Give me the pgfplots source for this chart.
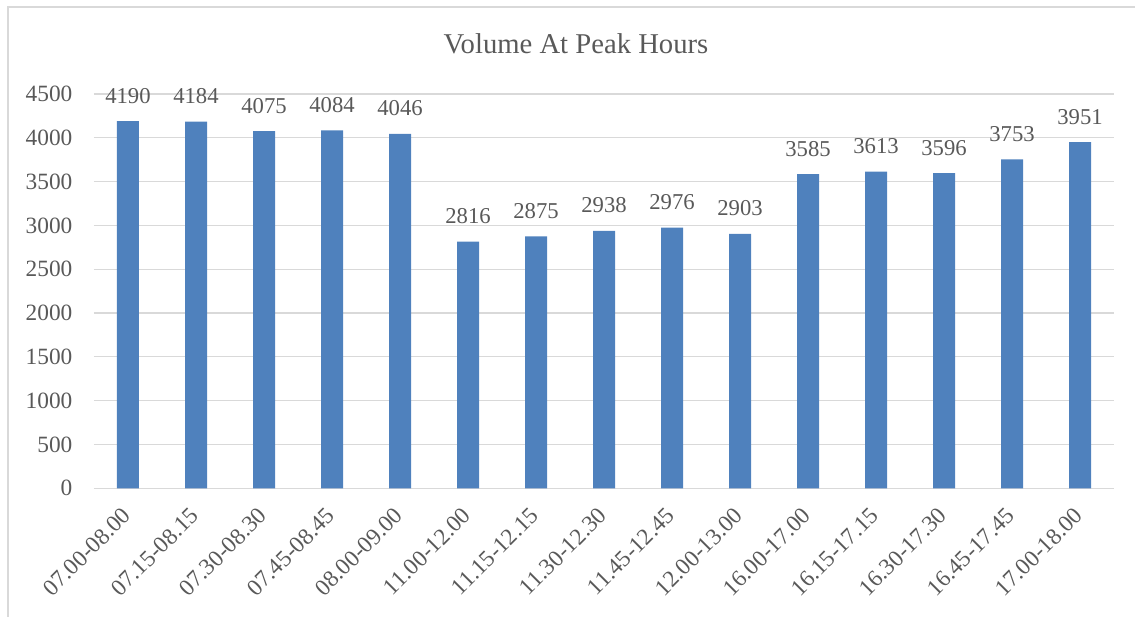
\documentclass[border=0pt]{standalone}
\usepackage{pgfplots}
\pgfplotsset{compat=1.18}
\usepackage{fontspec}
\setmainfont{Liberation Serif}
\definecolor{barblue}{HTML}{4F81BD}
\definecolor{txt}{HTML}{595959}
\definecolor{gridc}{HTML}{D9D9D9}
\begin{document}
\begin{tikzpicture}
\useasboundingbox (-70.5pt,-96.5pt) rectangle (780.75pt,366.2pt);
\draw[gridc, line width=0.9pt] (-64.5pt,-96.5pt) -- (-64.5pt,361pt) -- (780.75pt,361pt);
\node[anchor=base, text=txt, font=\fontsize{21.5}{24}\selectfont] at (361.5pt,325.7pt) {Volume At Peak Hours};
\begin{axis}[
  at={(0pt,0pt)}, anchor=south west,
  scale only axis,
  width=765pt, height=295.7pt,
  xmin=-0.5, xmax=14.5,
  ymin=0, ymax=4500,
  ytick={0,500,...,4500},
  xtick=data,
  xticklabels={07.00-08.00,07.15-08.15,07.30-08.30,07.45-08.45,08.00-09.00,11.00-12.00,11.15-12.15,11.30-12.30,11.45-12.45,12.00-13.00,16.00-17.00,16.15-17.15,16.30-17.30,16.45-17.45,17.00-18.00},
  axis line style={draw=none},
  tick style={draw=none},
  ymajorgrids,
  grid style={draw=gridc, line width=0.9pt},
  /pgf/number format/assume math mode=true,
  /pgf/number format/1000 sep={},
  yticklabel style={anchor=east, inner sep=0pt, xshift=-16pt, text=txt, font=\fontsize{17.5}{20}\selectfont},
  xticklabel style={xshift=-5.3pt, yshift=-9pt, rotate=45, anchor=north east, inner sep=0pt, text=txt, font=\fontsize{17.5}{20}\selectfont},
  ybar, bar width=16.5pt,
  nodes near coords,
  nodes near coords style={anchor=base, inner sep=0pt, yshift=13.5pt, text=txt, font=\fontsize{17}{20}\selectfont},
]
\addplot[fill=barblue, draw=none] coordinates {
(0,4190) (1,4184) (2,4075) (3,4084) (4,4046)
(5,2816) (6,2875) (7,2938) (8,2976) (9,2903)
(10,3585) (11,3613) (12,3596) (13,3753) (14,3951)
};
\end{axis}
\end{tikzpicture}
\end{document}
